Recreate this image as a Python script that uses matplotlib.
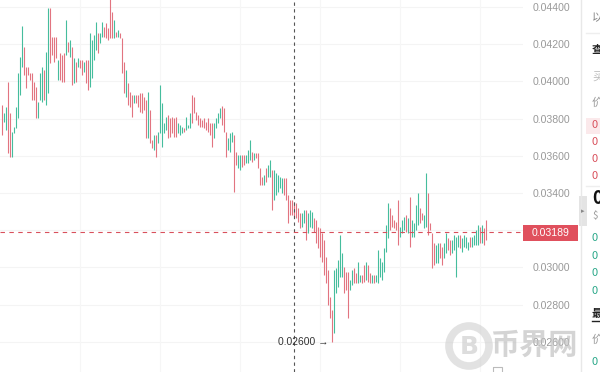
import numpy as np
import matplotlib
matplotlib.use("Agg")
import matplotlib.pyplot as plt
from matplotlib.patches import Rectangle, Circle

# ---------------- data (prices in units of 0.00001) ----------------
highs_e5 = [
    3873, 3830, 3862, 3997, 3830, 3728, 3755, 3862, 4045, 4131,
    4298, 4185, 4077, 4077, 4045, 4045, 3997, 3970, 3889, 4045,
    4077, 4061, 4158, 4395, 4395, 4239, 4239, 4239, 4115, 4153,
    4142, 4153, 4330, 4212, 4223, 4185, 4126, 4104, 4126, 4115,
    4115, 4104, 4115, 4115, 4260, 4223, 4249, 4319, 4260, 4260,
    4319, 4292, 4314, 4287, 4450, 4373, 4330, 4266, 4276, 4260,
    4233, 4104, 4061, 3991, 3943, 3927, 3927, 3927, 3927, 3938,
    3938, 3916, 3900, 3943, 3846, 3685, 3712, 3712, 3728, 3981,
    3884, 3776, 3809, 3819, 3803, 3809, 3803, 3809, 3776, 3766,
    3755, 3749, 3809, 3766, 3830, 3927, 3916, 3836, 3819, 3803,
    3792, 3803, 3782, 3803, 3776, 3776, 3776, 3803, 3830, 3857,
    3868, 3857, 3728, 3696, 3723, 3728, 3712, 3620, 3604, 3604,
    3604, 3604, 3604, 3631, 3685, 3620, 3615, 3615, 3615, 3534,
    3486, 3497, 3534, 3551, 3577, 3524, 3524, 3508, 3497, 3486,
    3481, 3481, 3481, 3389, 3362, 3362, 3352, 3346, 3319, 3293,
    3293, 3309, 3309, 3293, 3309, 3298, 3266, 3255, 3217, 3212,
    3185, 3147, 3056, 2986, 2841, 2771, 2986, 2997, 3040, 3174,
    3078, 3002, 2975, 2975, 2932, 2986, 2997, 2970, 3029, 2959,
    2959, 3013, 3029, 3013, 2970, 2959, 2959, 2959, 3094, 3051,
    3029, 3104, 3228, 3346, 3319, 3282, 3255, 3244, 3362, 3217,
    3255, 3271, 3282, 3266, 3379, 3255, 3239, 3336, 3400, 3319,
    3293, 3282, 3508, 3400, 3239, 3185, 3131, 3121, 3131, 3131,
    3110, 3131, 3185, 3158, 3147, 3147, 3174, 3164, 3174, 3174,
    3158, 3174, 3164, 3137, 3164, 3164, 3174, 3201, 3228, 3217,
    3228, 3212, 3255,
]
lows_e5 = [
    3712, 3782, 3739, 3615, 3594, 3594, 3723, 3749, 3803, 3927,
    4077, 4034, 3965, 4034, 4008, 3900, 3900, 3803, 3803, 3900,
    3889, 3900, 3873, 3938, 4099, 4142, 4104, 4126, 4008, 4008,
    3997, 3997, 4142, 4158, 4131, 3981, 3991, 3997, 4077, 4072,
    4034, 4051, 3991, 3954, 3970, 4018, 4115, 4169, 4153, 4206,
    4239, 4239, 4233, 4223, 4233, 4233, 4233, 4239, 4239, 4233,
    4045, 3938, 3916, 3873, 3862, 3809, 3884, 3884, 3862, 3836,
    3830, 3846, 3696, 3696, 3669, 3642, 3631, 3594, 3669, 3723,
    3647, 3723, 3739, 3696, 3701, 3723, 3701, 3701, 3723, 3712,
    3723, 3728, 3739, 3749, 3749, 3776, 3830, 3792, 3766, 3755,
    3755, 3749, 3739, 3728, 3712, 3647, 3696, 3749, 3776, 3803,
    3766, 3728, 3594, 3631, 3620, 3674, 3405, 3551, 3534, 3524,
    3540, 3551, 3561, 3561, 3577, 3567, 3577, 3588, 3534, 3443,
    3443, 3443, 3459, 3486, 3486, 3309, 3362, 3389, 3405, 3427,
    3400, 3389, 3362, 3239, 3282, 3282, 3271, 3266, 3244, 3212,
    3217, 3239, 3147, 3185, 3217, 3212, 3190, 3131, 3104, 3056,
    3029, 2959, 2916, 2798, 2728, 2600, 2647, 2862, 2895, 2948,
    2948, 2862, 2879, 2728, 2879, 2906, 2916, 2916, 2916, 2922,
    2916, 2922, 2932, 2922, 2916, 2916, 2916, 2922, 2916, 2948,
    2932, 2975, 3083, 3158, 3201, 3217, 3212, 3201, 3121, 3164,
    3185, 3201, 3190, 3185, 3110, 3164, 3164, 3201, 3228, 3239,
    3255, 3212, 3217, 3174, 3201, 2997, 3013, 3024, 3024, 3051,
    3013, 3051, 3078, 3094, 3067, 3078, 3094, 2948, 3110, 3104,
    3083, 3110, 3104, 3094, 3110, 3110, 3121, 3121, 3121, 3131,
    3131, 3121, 3147,
]
directions = (
    "rggrrggggg" "grrrrrrrgg" "grggrrrrgr" "rrgrgrgrgr" "rgrrggggrg"
    "grrrrrgrgr" "rrgrrrgrrr" "rrrgrrgrgg" "gggrrrrrgg" "grgggrrrrr"
    "rrrrrrgggg" "rrrgggrrgg" "rrgggrgrrr" "rgrggrgggg" "grrrrrrrrr"
    "ggrgggrrrr" "rrrrrrgggg" "grrrggrrgg" "rrgrrgrggg" "ggggrrrrrg"
    "ggrgrggggr" "rggrrrrggr" "rggrrggggr" "ggggrggggr" "grr"
)
last_price = 0.03189
low_marker = 0.02600
low_label = "0.02600 →"
price_ticks = [0.026, 0.028, 0.030, 0.034, 0.036, 0.038, 0.040, 0.042, 0.044]

n = min(len(highs_e5), len(lows_e5), len(directions))
highs = np.array(highs_e5[:n]) / 1e5
lows = np.array(lows_e5[:n]) / 1e5
idx = np.arange(n)
low_idx = int(np.argmin(lows))

GREEN = "#45bd9d"
RED = "#e27480"
colors = [GREEN if d == "g" else RED for d in directions[:n]]

W, H = 600, 372
fig = plt.figure(figsize=(W / 100, H / 100), dpi=100)
fig.patch.set_facecolor("white")

ax = fig.add_axes([0, 0, 523 / W, 1])
ax.set_facecolor("white")
for s in ax.spines.values():
    s.set_visible(False)
ax.set_xlim(-0.85, 260.65)
ax.set_ylim(0.024377, 0.044376)

# faint grid
for t in price_ticks + [0.032]:
    ax.axhline(t, color="#f4f4f4", lw=0.8, zorder=0)
for gx in [39, 79, 119, 159, 199, 239]:
    ax.axvline(gx, color="#f6f6f6", lw=0.8, zorder=0)

ax.vlines(idx, lows, highs, colors=colors, lw=0.8, zorder=2)

# crosshair & last price line
ax.axvline(146.2, color="#555555", lw=0.8, ls=(0, (3, 3)), zorder=3)
ax.axhline(last_price, color="#d9505c", lw=0.8, ls=(0, (4, 4)), zorder=3)

# low annotation
ax.annotate(low_label, xy=(low_idx, low_marker), xytext=(-2.5, 0),
            textcoords="offset points", ha="right", va="center",
            fontsize=7.4, color="#333333", family="Liberation Sans", zorder=4)

# right price axis
ax.yaxis.tick_right()
ax.set_yticks(price_ticks)
ax.set_yticklabels([f"{t:.5f}" for t in price_ticks])
ax.tick_params(axis="y", length=0, pad=7, labelsize=7.6, labelcolor="#999999")
for lab in ax.get_yticklabels():
    lab.set_family("Liberation Sans")
ax.set_xticks([])

# overlay in pixel coords for decorations
ov = fig.add_axes([0, 0, 1, 1], zorder=10)
ov.set_xlim(0, W)
ov.set_ylim(H, 0)
ov.axis("off")
ov.patch.set_alpha(0)

# last price box
ov.add_patch(Rectangle((523, 224.5), 55, 16, color="#e0505d", lw=0))
ov.text(550.5, 232.5, f"{last_price:.5f}", color="white", fontsize=7.6,
        ha="center", va="center", family="Liberation Sans")

# panel divider and tab
ov.plot([580.5, 580.5], [0, H], color="#e8e8e8", lw=1)
ov.add_patch(Rectangle((578.5, 196), 8, 30, color="#e4e4e4", lw=0))
ov.text(582.5, 211, "▸", fontsize=5, color="#888888", ha="center", va="center")

# right panel fragments
cjk = ["Noto Sans CJK SC", "DejaVu Sans"]
ov.plot([586, 600], [33, 33], color="#eeeeee", lw=1)
ov.add_patch(Rectangle((586, 118), 14, 16, color="#fbe9eb", lw=0))
frag = [
    (17, "以", "#888888", 8, "normal"),
    (50, "查", "#222222", 8, "bold"),
    (77, "买", "#bbbbbb", 8, "normal"),
    (103, "价", "#999999", 8, "normal"),
    (125, "0", "#d9505c", 8, "normal"),
    (142, "0", "#d9505c", 8, "normal"),
    (159, "0", "#d9505c", 8, "normal"),
    (176, "0", "#d9505c", 8, "normal"),
    (198, "0", "#111111", 13, "bold"),
    (216, "$", "#999999", 7, "normal"),
    (238, "0", "#2aa889", 8, "normal"),
    (256, "0", "#2aa889", 8, "normal"),
    (273, "0", "#2aa889", 8, "normal"),
    (291, "0", "#2aa889", 8, "normal"),
    (313, "最", "#222222", 8, "bold"),
    (340, "价", "#999999", 8, "normal"),
    (362, "0", "#2aa889", 8, "normal"),
]
for y, s, c, fs, fw in frag:
    ov.text(592, y, s, color=c, fontsize=fs, fontweight=fw, ha="left",
            va="center", family=cjk)
ov.plot([586, 600], [186, 186], color="#eeeeee", lw=1)
ov.plot([592, 600], [321, 321], color="#222222", lw=1)

# watermark
ov.add_patch(Circle((469, 346), 20, fill=False, ec="#cfcfcf", lw=5.5, alpha=0.6))
ov.text(469, 347, "B", fontsize=18, fontweight="bold", color="#cfcfcf",
        ha="center", va="center", alpha=0.7)
ov.text(534, 345, "币界网", fontsize=21, fontweight="bold", color="#bdbdbd",
        ha="center", va="center", family=cjk, alpha=0.65)

# small icon bottom
ov.add_patch(Rectangle((493, 367), 9, 9, fill=False, ec="#bbbbbb", lw=0.8))

fig.savefig("out.png", dpi=100, facecolor="white")
